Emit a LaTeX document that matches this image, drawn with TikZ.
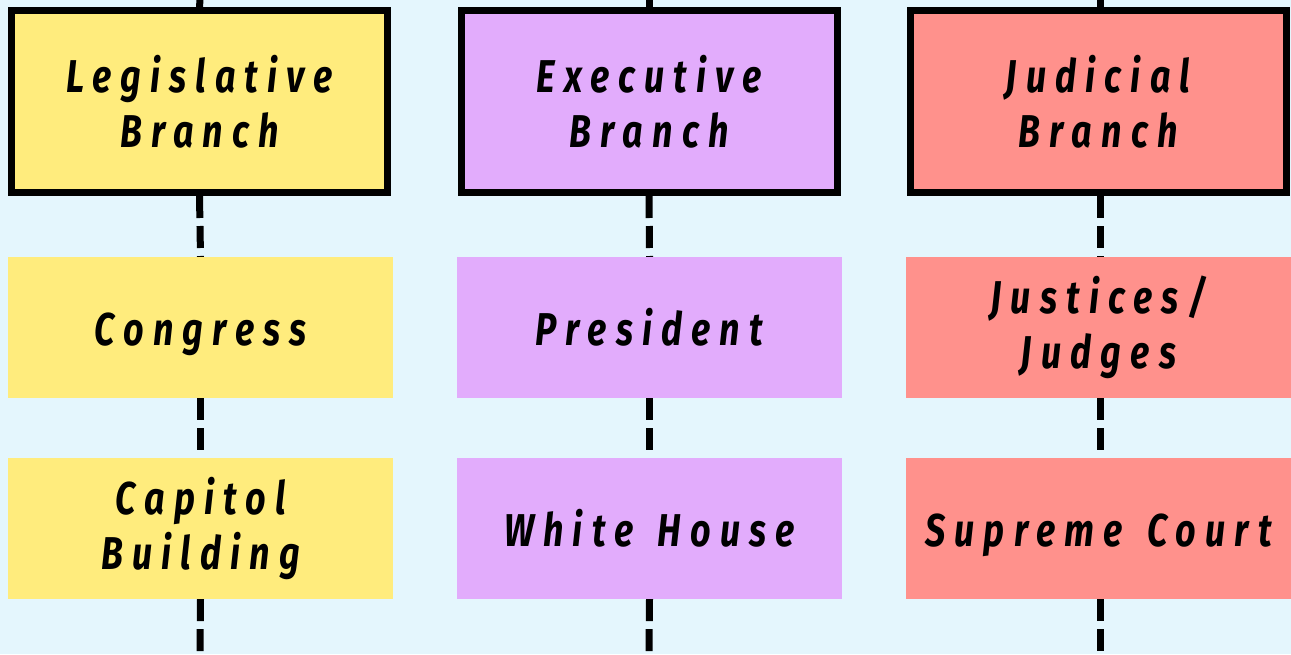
\documentclass[tikz,border=0pt]{standalone}
\usepackage{fontspec}
\usetikzlibrary{backgrounds}
\newfontfamily\lbl{Fira Sans}[FakeStretch=0.78,LetterSpace=20]
\definecolor{bg}{RGB}{228,246,253}
\definecolor{yel}{RGB}{255,236,125}
\definecolor{pur}{RGB}{226,172,252}
\definecolor{red}{RGB}{255,145,140}
\begin{document}
\begin{tikzpicture}[x=1pt,y=-1pt,
  lblfont/.style={font=\lbl\bfseries\itshape\fontsize{46}{55}\selectfont},
  topbox/.style={draw=black,line width=7pt,minimum width=376pt,minimum height=182pt,inner sep=0pt,align=center,lblfont},
  subbox/.style={draw=none,minimum width=385pt,minimum height=141pt,inner sep=0pt,align=center,lblfont},
  oneline/.style={text height=35pt,text depth=0pt},
  link/.style={line width=7pt,dash pattern=on 22pt off 8pt}]
\useasboundingbox (0,0) rectangle (1291,654);
% coordinates for free ends
\coordinate (t1) at (200,0); \coordinate (b1) at (200,654);
\coordinate (t2) at (649,0); \coordinate (b2) at (649,654);
\coordinate (t3) at (1100,0); \coordinate (b3) at (1100,654);
% nodes
\node[topbox,fill=yel] (L) at (199.5,101.5) {Legislative\\Branch};
\node[topbox,fill=pur] (E) at (649,101.5) {Executive\\Branch};
\node[topbox,fill=red] (J) at (1098,101.5) {Judicial\\Branch};
\node[subbox,oneline,fill=yel] (C) at (200.5,327.5) {Congress};
\node[subbox,oneline,fill=pur] (P) at (649.5,327.5) {President};
\node[subbox,fill=red] (JJ) at (1098.5,327.5) {Justices/\\Judges};
\node[subbox,fill=yel] (CB) at (200.5,528.5) {Capitol\\Building};
\node[subbox,oneline,fill=pur] (WH) at (649.5,528.5) {White\hspace{7pt} House};
\node[subbox,oneline,fill=red] (SC) at (1098.5,528.5) {Supreme\hspace{7pt} Court};
% connectors behind
\begin{scope}[on background layer]
\fill[bg] (0,0) rectangle (1291,654);
\draw[link] (t1) -- (L.north);
\draw[link] (L.south) -- (C.north);
\draw[link] (C.south) -- (CB.north);
\draw[link] (CB.south) -- (b1);
\draw[link] (t2) -- (E.north);
\draw[link] (E.south) -- (P.north);
\draw[link] (P.south) -- (WH.north);
\draw[link] (WH.south) -- (b2);
\draw[link] (t3) -- ([xshift=2pt]J.north);
\draw[link] ([xshift=2pt]J.south) -- ([xshift=1.5pt]JJ.north);
\draw[link] ([xshift=1.5pt]JJ.south) -- ([xshift=1.5pt]SC.north);
\draw[link] ([xshift=1.5pt]SC.south) -- (b3);
\end{scope}
\end{tikzpicture}
\end{document}
